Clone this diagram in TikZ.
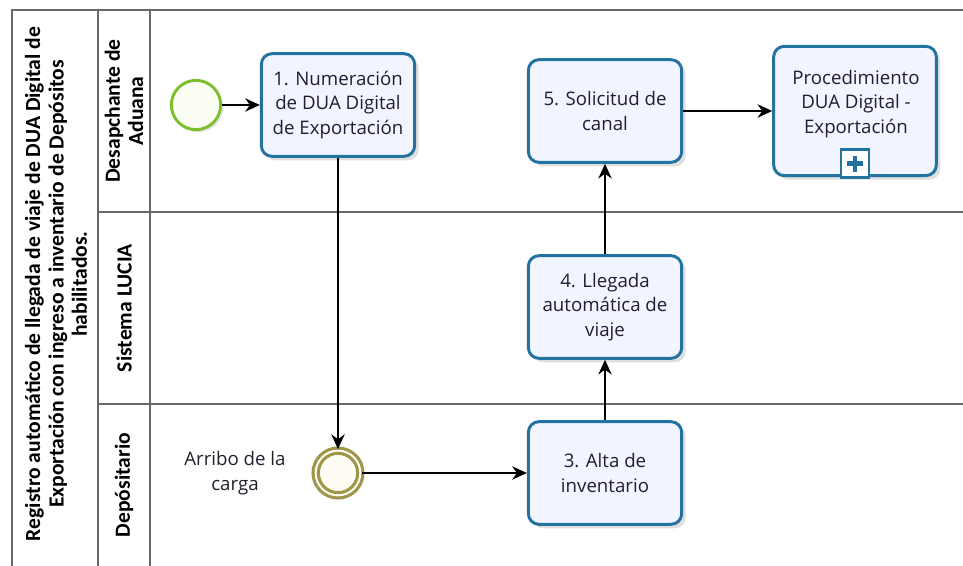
\documentclass[tikz,border=0pt]{standalone}
\usepackage{fontspec}
\setmainfont{Open Sans}
\newfontfamily\hdrfont{Carlito}
\usetikzlibrary{arrows.meta,shadows}
\definecolor{taskline}{RGB}{35,115,160}
\definecolor{taskfill}{RGB}{242,244,255}
\definecolor{startline}{RGB}{125,190,45}
\definecolor{startfill}{RGB}{249,253,242}
\definecolor{interline}{RGB}{160,150,75}
\definecolor{interfill}{RGB}{255,252,243}
\definecolor{poolline}{RGB}{105,105,105}
\definecolor{txt}{RGB}{35,30,45}
\begin{document}
\begin{tikzpicture}[x=0.75pt,y=-0.75pt,
	every node/.style={text=txt},
	task/.style={draw=taskline,fill=taskfill,line width=2.2pt,rounded corners=8pt,
		minimum width=115pt,minimum height=77pt,align=center,
		font=\fontsize{14}{18.4}\selectfont,
		drop shadow={opacity=0.25,shadow xshift=3pt,shadow yshift=-3pt}},
	lane/.style={rotate=90,align=center,font=\hdrfont\bfseries\fontsize{16.2}{17.5}\selectfont,text=black},
	flow/.style={-{Stealth[length=11pt,width=10pt]},line width=1.5pt,black},
	pool/.style={poolline,line width=1.5pt}]
\useasboundingbox (0,0) rectangle (963,566);
\draw[pool] (963,10) -- (12,10) -- (12,566);
\draw[pool] (98,10) -- (98,566);
\draw[pool] (150,10) -- (150,566);
\draw[pool] (98,212) -- (963,212);
\draw[pool] (98,404) -- (963,404);
\node[lane] (pool) at (56,284) {Registro automático de llegada de viaje de DUA Digital de\\Exportación con ingreso a inventario de Depósitos\\habilitados.};
\node[lane] (desp) at (124,111) {Desapchante de\\Aduana};
\node[lane] (lucia) at (124,308) {Sistema LUCIA};
\node[lane] (depo) at (124,485) {Depósitario};
\node[circle,draw=startline,fill=startfill,line width=2.2pt,minimum size=37pt,
	drop shadow={opacity=0.2,shadow xshift=2pt,shadow yshift=-2pt}] (start) at (196,105) {};
\node[task] (numera) at (338,105) {1. Numeración\\de DUA Digital\\de Exportación};
\node[task] (canal) at (605,111) {5. Solicitud de\\canal};
\node[task,minimum width=122pt,minimum height=97pt] (proc) at (855,111) {};
\node[align=center,font=\fontsize{14}{18.4}\selectfont] (proclbl) at (856,104) {Procedimiento\\DUA Digital -\\Exportación};
\node[draw=taskline,fill=white,line width=1.8pt,minimum size=21pt,anchor=south,inner sep=0pt] (marker) at ([yshift=-1.2pt]proc.south) {};
\draw[taskline,line width=3.6pt] ([xshift=-6pt]marker.center) -- ([xshift=6pt]marker.center)
	([yshift=-6pt]marker.center) -- ([yshift=6pt]marker.center);
\node[task] (llegada) at (605,307) {4. Llegada\\automática de\\viaje};
\node[task] (alta) at (605,473) {3. Alta de\\inventario};
\node[circle,draw=interline,double=interfill,double distance=1.5pt,line width=2.4pt,
	fill=interfill,minimum size=33.5pt,
	drop shadow={opacity=0.2,shadow xshift=2pt,shadow yshift=-2pt}] (arribo) at (338,473) {};
\node[align=center,font=\fontsize{14}{18.4}\selectfont] (arribolbl) at (235,473) {Arribo de la\\carga};
\draw[flow] (start) -- (numera);
\draw[flow] (numera) -- (arribo);
\draw[flow] (arribo) -- (alta);
\draw[flow] (alta) -- (llegada);
\draw[flow] (llegada) -- (canal);
\draw[flow] (canal) -- (proc);
\end{tikzpicture}
\end{document}
